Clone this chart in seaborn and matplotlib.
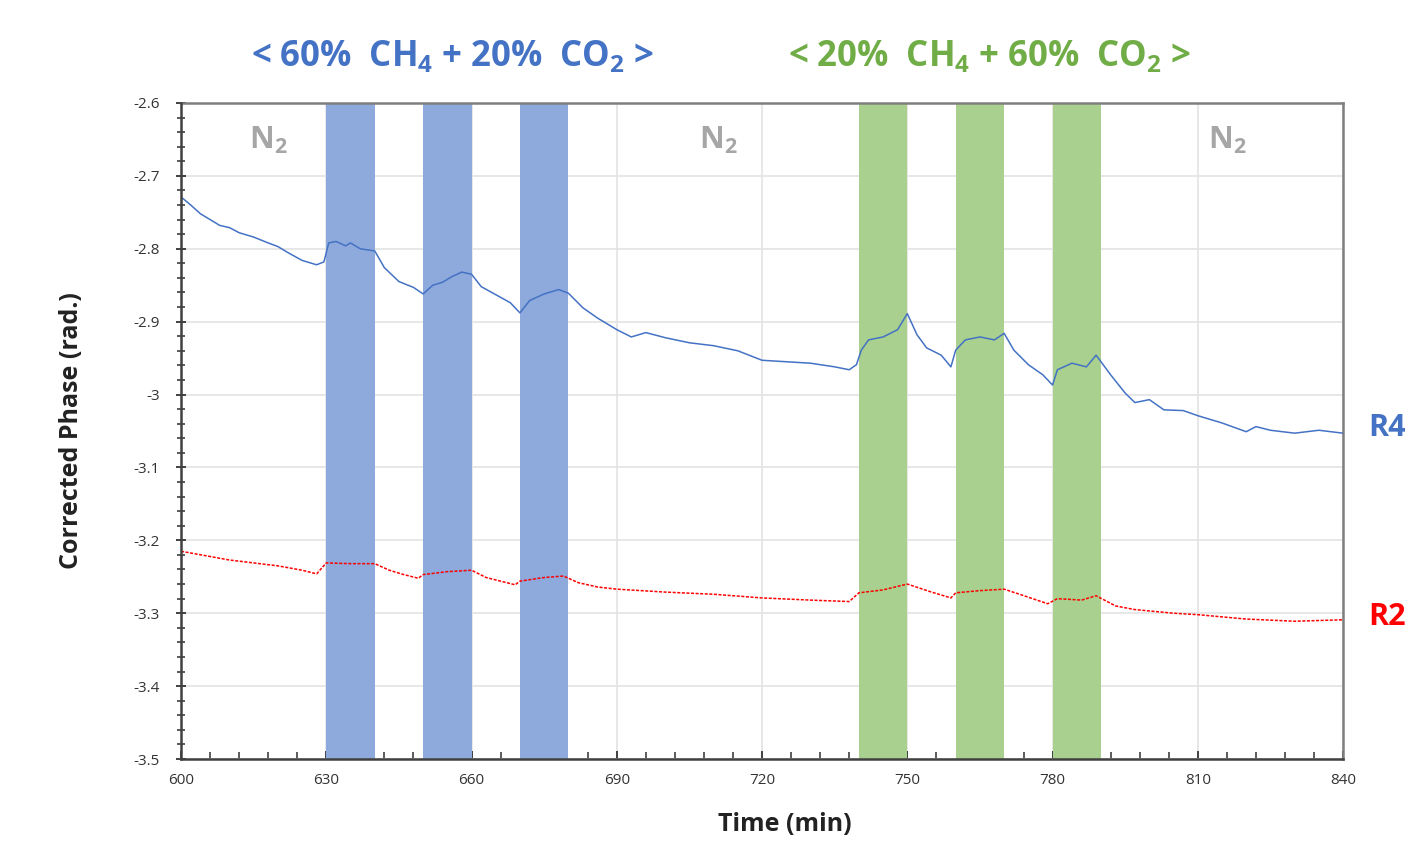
import matplotlib
matplotlib.use("Agg")
import matplotlib.pyplot as plt
from matplotlib.ticker import MultipleLocator
import seaborn as sns
import pandas as pd

# ---------------- data ----------------
r4_time = [600, 602, 604, 606, 608, 610, 612, 615, 618, 620, 622, 625, 628, 629.5,
           630.5, 632, 634, 635, 637, 640, 642, 645, 648, 650, 652, 654, 656, 658,
           660, 662, 665, 668, 670, 672, 675, 678, 680, 683, 686, 690, 693, 696,
           700, 705, 710, 715, 720, 725, 730, 735, 738, 739.5, 740.5, 742, 745,
           748, 750, 752, 754, 757, 759, 760, 762, 765, 768, 770, 772, 775, 778,
           780, 781, 784, 787, 789, 792, 795, 797, 800, 803, 807, 810, 815, 820,
           822, 825, 830, 835, 840]
r4_phase = [-2.729, -2.740, -2.752, -2.760, -2.768, -2.771, -2.778, -2.784, -2.792,
            -2.797, -2.805, -2.816, -2.822, -2.818, -2.792, -2.790, -2.796, -2.792,
            -2.800, -2.803, -2.826, -2.845, -2.853, -2.862, -2.850, -2.846, -2.838,
            -2.832, -2.835, -2.852, -2.863, -2.874, -2.888, -2.871, -2.862, -2.856,
            -2.861, -2.881, -2.895, -2.911, -2.921, -2.915, -2.922, -2.929, -2.933,
            -2.940, -2.953, -2.955, -2.957, -2.962, -2.966, -2.959, -2.939, -2.925,
            -2.921, -2.911, -2.889, -2.918, -2.936, -2.946, -2.962, -2.939, -2.925,
            -2.921, -2.925, -2.916, -2.939, -2.959, -2.973, -2.987, -2.966, -2.957,
            -2.962, -2.946, -2.973, -2.998, -3.011, -3.007, -3.021, -3.022, -3.029,
            -3.039, -3.051, -3.044, -3.049, -3.053, -3.049, -3.053]

r2_time = [600, 605, 610, 615, 620, 625, 628, 630, 635, 640, 643, 646, 649, 650,
           655, 660, 663, 666, 669, 670, 675, 679, 682, 686, 690, 700, 710, 720,
           730, 738, 740, 745, 750, 755, 759, 760, 765, 770, 775, 779, 781, 786,
           789, 793, 797, 805, 810, 820, 830, 840]
r2_phase = [-3.215, -3.221, -3.227, -3.231, -3.235, -3.241, -3.246, -3.231, -3.232,
            -3.232, -3.241, -3.247, -3.252, -3.247, -3.243, -3.241, -3.251, -3.256,
            -3.261, -3.256, -3.251, -3.249, -3.258, -3.264, -3.267, -3.271, -3.274,
            -3.279, -3.282, -3.284, -3.272, -3.268, -3.260, -3.271, -3.279, -3.272,
            -3.269, -3.267, -3.278, -3.287, -3.280, -3.282, -3.276, -3.290, -3.295,
            -3.300, -3.302, -3.308, -3.311, -3.309]

blue_bands = [(630, 640), (650, 660), (670, 680)]
green_bands = [(740, 750), (760, 770), (780, 790)]
n2_positions = [618, 711, 816]

x_ticks = [600, 630, 660, 690, 720, 750, 780, 810, 840]
y_ticks = [-2.6, -2.7, -2.8, -2.9, -3.0, -3.1, -3.2, -3.3, -3.4, -3.5]
y_tick_labels = ["-2.6", "-2.7", "-2.8", "-2.9", "-3", "-3.1", "-3.2", "-3.3", "-3.4", "-3.5"]

# ---------------- style ----------------
sns.set_theme(style="white")
plt.rcParams["font.family"] = ["Open Sans", "DejaVu Sans"]
plt.rcParams["mathtext.default"] = "regular"

BLUE = "#4472C4"
GREEN = "#70AD47"
RED = "#FF0000"

fig = plt.figure(figsize=(14.09, 8.44), dpi=100)
ax = fig.add_axes([0.1285, 0.1007, 0.8247, 0.7773])

for a, b in blue_bands:
    ax.axvspan(a, b, color="#8EA9DB", lw=0, zorder=1)
for a, b in green_bands:
    ax.axvspan(a, b, color="#A9D08E", lw=0, zorder=1)

df4 = pd.DataFrame({"t": r4_time, "phase": r4_phase})
df2 = pd.DataFrame({"t": r2_time, "phase": r2_phase})
sns.lineplot(data=df4, x="t", y="phase", ax=ax, color=BLUE, lw=1.1, zorder=3)
sns.lineplot(data=df2, x="t", y="phase", ax=ax, color=RED, lw=1.1, ls=(0, (2, 1)), zorder=3)

ax.set_xlim(600, 840)
ax.set_ylim(-3.5, -2.6)
ax.set_xticks(x_ticks)
ax.set_xticklabels([str(v) for v in x_ticks])
ax.set_yticks(y_ticks)
ax.set_yticklabels(y_tick_labels)
ax.xaxis.set_minor_locator(MultipleLocator(6))
ax.yaxis.set_minor_locator(MultipleLocator(0.02))
ax.grid(True, which="major", color="#E3E3E3", lw=1.2, zorder=0)
ax.set_axisbelow(True)

for s in ["top", "right"]:
    ax.spines[s].set_color("#7F7F7F")
    ax.spines[s].set_linewidth(1.8)
for s in ["left", "bottom"]:
    ax.spines[s].set_color("#404040")
    ax.spines[s].set_linewidth(1.8)
ax.spines["left"].set_zorder(5)

ax.tick_params(axis="both", which="both", bottom=True, left=True, top=False, right=False,
               labelsize=11, colors="#404040", labelcolor="#333333")
ax.tick_params(axis="x", which="major", direction="in", length=6, width=1.4, pad=10)
ax.tick_params(axis="x", which="minor", direction="in", length=5, width=1.2)
ax.tick_params(axis="y", which="major", direction="inout", length=7, width=1.4, pad=12)
ax.tick_params(axis="y", which="minor", direction="inout", length=6, width=1.2)

ax.set_xlabel("Time (min)", fontsize=18, fontweight="bold", color="#222222")
ax.xaxis.set_label_coords((785 - 181) / (1343 - 181), -(812 - 759) / (759 - 103))
ax.set_ylabel("Corrected Phase (rad.)", fontsize=18, fontweight="bold", color="#222222")
ax.yaxis.set_label_coords(-(181 - 84) / (1343 - 181), 0.5)

# top annotations
fig.text(453 / 1409, 1 - 57 / 844, r"< 60%  CH$_4$ + 20%  CO$_2$ >", color=BLUE,
         fontsize=25, fontweight="bold", ha="center", va="center")
fig.text(990 / 1409, 1 - 57 / 844, r"< 20%  CH$_4$ + 60%  CO$_2$ >", color=GREEN,
         fontsize=25, fontweight="bold", ha="center", va="center")

for xp in n2_positions:
    ax.text(xp, -2.652, r"N$_2$", color="#A6A6A6", fontsize=22, fontweight="bold",
            ha="center", va="center", zorder=4)

fig.text(1368 / 1409, 1 - 428 / 844, "R4", color=BLUE, fontsize=22, fontweight="bold",
         ha="left", va="center")
fig.text(1368 / 1409, 1 - 617 / 844, "R2", color=RED, fontsize=22, fontweight="bold",
         ha="left", va="center")

fig.savefig("out.png", dpi=100)
